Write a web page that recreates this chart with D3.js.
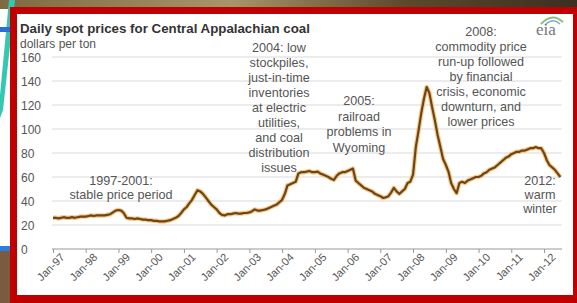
<!DOCTYPE html>
<html>
<head>
<meta charset="utf-8">
<script src="https://cdn.jsdelivr.net/npm/d3@7"></script>
<style>
  body { margin: 0; background: #fff; }
  svg { display: block; font-family: "Liberation Sans", Arial, sans-serif; }
</style>
</head>
<body>
<script>
// monthly spot price, dollars per ton, Jan 1997 .. Jul 2012
const prices = [
  26, 26, 25.5, 26, 26.5, 26, 26, 26.5, 26, 26.5, 27, 27,        // 1997
  27, 27.5, 28, 27.5, 28, 28, 28, 28, 28.5, 29, 30.5, 32,        // 1998
  32.5, 32, 30, 26, 25.5, 25.5, 25, 25.5, 25, 24.5, 24.5, 24,    // 1999
  24, 23.5, 23.5, 23, 23, 23, 23.5, 24, 25, 26, 27.5, 30,        // 2000
  33, 35, 38, 41, 45, 49, 48, 46, 43, 40, 37, 35,                // 2001
  33, 30, 28.5, 28, 29, 29, 29.5, 30, 29.5, 29.5, 30, 30,        // 2002
  30.5, 31.5, 33, 32, 32, 32.5, 33, 34, 35, 36, 37, 39,          // 2003
  41, 46, 53, 54, 55, 56, 63, 64, 64, 64.5, 65, 64,              // 2004
  64, 64.5, 63, 62, 61, 60, 58.5, 57.5, 61, 63, 64, 64,          // 2005
  65, 66, 67, 57, 55, 53, 51, 50, 49, 48, 46, 45,                // 2006
  44, 42.5, 43, 44, 47, 51, 48, 46, 48, 50, 55, 56,              // 2007
  62, 85, 98, 113, 125, 135, 130, 118, 107, 95, 85, 75,          // 2008
  70, 64, 55, 50, 46.5, 55, 56, 55, 57, 58, 59, 60,              // 2009
  60, 61, 63, 64, 66, 67, 68, 70, 72, 74, 76, 77,                // 2010
  79, 80, 81, 81, 82, 82, 83, 84, 84, 85, 84, 84,                // 2011
  80, 74, 70, 68, 66, 63, 60                                      // 2012
];
const startYear = 1997;
const tickYears = d3.range(1997, 2013);
const yTicks = [0, 20, 40, 60, 80, 100, 120, 140, 160];

const notes = [
  { x: 121, y: 185, dy: 14, lines: ["1997-2001:", "stable price period"] },
  { x: 279, y: 52, dy: 15, lines: ["2004:  low", "stockpiles,", "just-in-time", "inventories", "at electric", "utilities,", "and coal", "distribution", "issues"] },
  { x: 359, y: 105, dy: 15.5, lines: ["2005:", "railroad", "problems in", "Wyoming"] },
  { x: 481, y: 36, dy: 15, lines: ["2008:", "commodity price", "run-up followed", "by financial", "crisis, economic", "downturn, and", "lower prices"] },
  { x: 540, y: 185, dy: 14, lines: ["2012:", "warm", "winter"] }
];

const W = 577, H = 303;
const svg = d3.select("body").append("svg").attr("width", W).attr("height", H);

// slide background around the chart
const grad = svg.append("defs").append("linearGradient").attr("id", "photo");
grad.append("stop").attr("offset", "0%").attr("stop-color", "#7d6a42");
grad.append("stop").attr("offset", "40%").attr("stop-color", "#a8956a");
grad.append("stop").attr("offset", "70%").attr("stop-color", "#5b4a2c");
grad.append("stop").attr("offset", "100%").attr("stop-color", "#3a3020");
svg.append("rect").attr("width", W).attr("height", H).attr("fill", "#fff");
svg.append("rect").attr("width", W).attr("height", 9).attr("fill", "url(#photo)");
svg.append("path").attr("d", "M9,0 L15,0 L3,110 L0,118 L0,95 Z").attr("fill", "#35c8b0");
svg.append("rect").attr("x", 0).attr("y", 27).attr("width", 12).attr("height", 5).attr("fill", "#2a6fd6");
svg.append("rect").attr("x", 0).attr("y", 246).attr("width", 12).attr("height", 5).attr("fill", "#2a7ee0");
svg.append("rect").attr("x", 0).attr("y", 251).attr("width", 12).attr("height", 52).attr("fill", "#7a5a40");

// red frame
svg.append("rect").attr("x", 10).attr("y", 7).attr("width", W - 10).attr("height", H - 7).attr("fill", "#c00000");
svg.append("rect").attr("x", 17).attr("y", 14).attr("width", 556).attr("height", 281).attr("fill", "#fff");

const x = d3.scaleTime()
  .domain([new Date(1997, 0, 1), new Date(2012, 0, 1)])
  .range([53, 544]);
const y = d3.scaleLinear().domain([0, 160]).range([249, 57]);

// grid
svg.append("g").selectAll("line")
  .data(yTicks.slice(1))
  .enter().append("line")
  .attr("x1", 52).attr("x2", 562)
  .attr("y1", d => y(d)).attr("y2", d => y(d))
  .attr("stroke", "#d9d9d9").attr("stroke-width", 1.2);

// y labels
svg.append("g").selectAll("text")
  .data(yTicks)
  .enter().append("text")
  .attr("x", 21).attr("y", d => y(d) + 5)
  .attr("font-size", 12).attr("fill", "#555")
  .text(d => d);

// x axis
const xAxis = d3.axisBottom(x)
  .tickValues(tickYears.map(yr => new Date(yr, 0, 1)))
  .tickSize(4)
  .tickFormat(d3.timeFormat("Jan-%y"));
const gx = svg.append("g").attr("transform", "translate(0," + y(0) + ")").call(xAxis);
gx.select(".domain").attr("stroke", "#999").attr("d", "M52,0H562");
gx.selectAll(".tick line").attr("stroke", "#999");
gx.selectAll(".tick text")
  .attr("font-family", "Liberation Sans, Arial, sans-serif")
  .attr("font-size", 11).attr("fill", "#555")
  .attr("text-anchor", "end")
  .attr("transform", "translate(3,0) rotate(-45)")
  .attr("dy", "0.6em").attr("y", 6).attr("x", 0);

// price line
const series = prices.map((v, i) => ({ date: d3.timeMonth.offset(new Date(startYear, 0, 1), i), v: v }));
const line = d3.line().x(d => x(d.date)).y(d => y(d.v));
svg.append("path").datum(series).attr("d", line)
  .attr("fill", "none").attr("stroke", "#f2b35a").attr("stroke-width", 4.5).attr("stroke-linejoin", "round").attr("opacity", 0.7);
svg.append("path").datum(series).attr("d", line)
  .attr("fill", "none").attr("stroke", "#6e4517").attr("stroke-width", 2.2).attr("stroke-linejoin", "round");

// titles
svg.append("text").attr("x", 20).attr("y", 33)
  .attr("font-size", 13.3).attr("font-weight", "bold").attr("fill", "#333")
  .text("Daily spot prices for Central  Appalachian coal");
svg.append("text").attr("x", 20).attr("y", 48)
  .attr("font-size", 12).attr("fill", "#555")
  .text("dollars per ton");

// annotations
notes.forEach(n => {
  svg.append("text").attr("font-size", 12.6).attr("fill", "#555").attr("text-anchor", "middle")
    .selectAll("tspan").data(n.lines).enter().append("tspan")
    .attr("x", n.x).attr("y", (d, i) => n.y + i * n.dy)
    .text(d => d);
});

// eia logo
svg.append("path").attr("d", "M541,24 Q552,12 563,22").attr("fill", "none").attr("stroke", "#8cc07a").attr("stroke-width", 2);
svg.append("path").attr("d", "M545,25 Q553,17 560,24").attr("fill", "none").attr("stroke", "#7aa8d0").attr("stroke-width", 1.5);
svg.append("text").attr("x", 536).attr("y", 35)
  .attr("font-family", "Liberation Serif, serif").attr("font-size", 17).attr("fill", "#777")
  .text("eia");
</script>
</body>
</html>
